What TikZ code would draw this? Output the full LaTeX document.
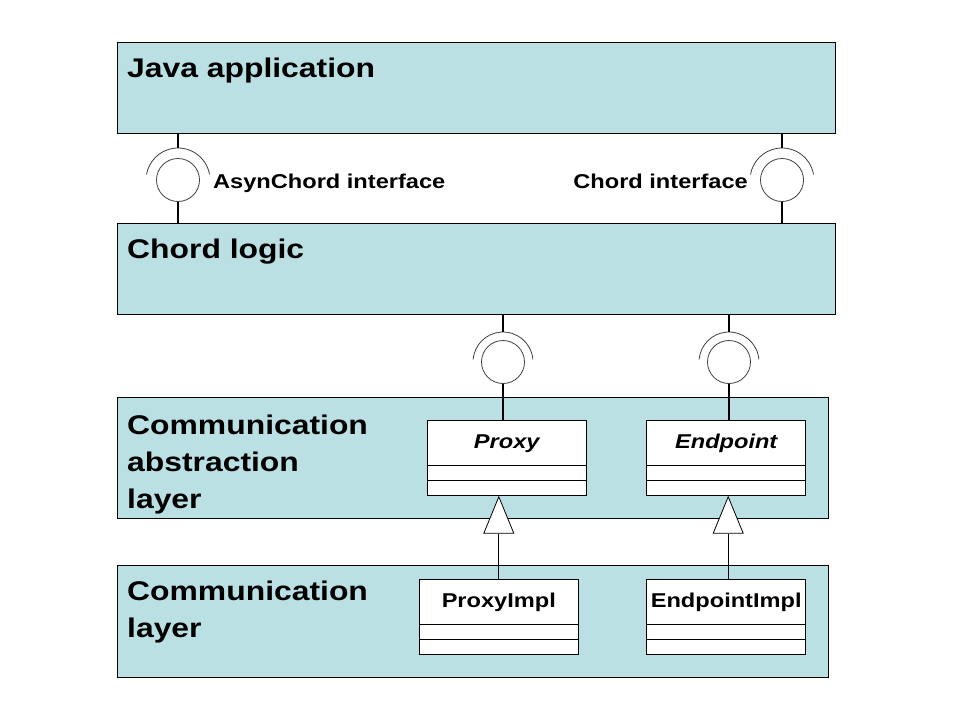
\documentclass[tikz,border=0pt]{standalone}
\usepackage{fontspec}
\setmainfont{Liberation Sans}[FakeStretch=1.18]
\usetikzlibrary{positioning,arrows.meta}
\definecolor{layerfill}{RGB}{187,224,227}

\tikzset{
  layer/.style={draw, fill=layerfill, line width=0.8pt, anchor=north west, inner sep=0, outer sep=0},
  layertext/.style={inner sep=0, align=left, font=\fontsize{27}{37}\selectfont\bfseries},
  iftext/.style={inner sep=0, font=\fontsize{20}{24}\selectfont\bfseries},
  ball/.style={circle, draw=black!75, line width=0.8pt, minimum size=43pt, inner sep=0, outer sep=0},
  socket/.style={draw=black!75, line width=0.8pt},
  wire/.style={line width=2pt},
  clsname/.style={draw, fill=white, line width=0.8pt, minimum width=159pt, minimum height=45pt, inner sep=0, outer sep=0, font=\fontsize{20}{24}\selectfont\bfseries},
  clspart/.style={draw, fill=white, line width=0.8pt, minimum width=159pt, minimum height=15pt, inner sep=0, outer sep=0},
  inherit/.style={line width=0.8pt, -{Triangle[fill=white, length=38pt, width=31pt]}},
}

\begin{document}
\begin{tikzpicture}[x=1pt, y=-1pt]
  \useasboundingbox (0,0) rectangle (960,720);
  \fill[white] (0,0) rectangle (960,720);

  % layers
  \node[layer, minimum width=718pt, minimum height=91pt] (java) at (117,42) {};
  \node[layer, minimum width=718pt, minimum height=91pt] (chord) at (117,223) {};
  \node[layer, minimum width=711pt, minimum height=121pt] (abstr) at (117,397) {};
  \node[layer, minimum width=711pt, minimum height=112pt] (comm) at (117,565) {};

  \node[layertext, anchor=base west] (javatext) at (127,77) {Java application};
  \node[layertext, anchor=base west] (chordtext) at (127,258) {Chord logic};
  \node[layertext, anchor=north west] (abstrtext) at (127,414.5) {Communication\\abstraction\\layer};
  \node[layertext, anchor=north west] (commtext) at (127,581) {Communication\\layer};

  % classes
  \node[clsname, font=\fontsize{20}{24}\selectfont\bfseries\itshape] (proxy) at (506.7,443.2) {Proxy};
  \node[clspart, below=0pt of proxy] (proxya) {};
  \node[clspart, below=0pt of proxya] (proxyb) {};
  \node[clsname, font=\fontsize{20}{24}\selectfont\bfseries\itshape] (endp) at (726.2,443.2) {Endpoint};
  \node[clspart, below=0pt of endp] (endpa) {};
  \node[clspart, below=0pt of endpa] (endpb) {};

  \node[clsname] (pimpl) at (498.8,602) {ProxyImpl};
  \node[clspart, below=0pt of pimpl] (pimpla) {};
  \node[clspart, below=0pt of pimpla] (pimplb) {};
  \node[clsname] (eimpl) at (726.2,602) {EndpointImpl};
  \node[clspart, below=0pt of eimpl] (eimpla) {};
  \node[clspart, below=0pt of eimpla] (eimplb) {};

  \draw[inherit] (pimpl.north) -- (pimpl.north |- proxyb.south);
  \draw[inherit] ([xshift=2pt]eimpl.north) -- ([xshift=2pt]eimpl.north |- endpb.south);

  % interfaces
  \node[ball] (ball1) at (178,180) {};
  \node[ball] (ball2) at (782,180) {};
  \node[ball] (ball3) at (503,362) {};
  \node[ball] (ball4) at (729,362) {};
  \coordinate (sock1) at (178,148);
  \coordinate (sock2) at (782,148);
  \coordinate (sock3) at (503,332);
  \coordinate (sock4) at (729,332);

  \draw[socket] (ball1.center) ++(10:32pt) arc[start angle=10, end angle=170, radius=32pt];
  \draw[socket] (ball2.center) ++(10:32pt) arc[start angle=10, end angle=170, radius=32pt];
  \draw[socket] (ball3.center) ++(5:30pt) arc[start angle=5, end angle=175, radius=30pt];
  \draw[socket] (ball4.center) ++(5:30pt) arc[start angle=5, end angle=175, radius=30pt];

  \draw[wire] (java.south -| sock1) -- (sock1);
  \draw[wire] (ball1.south) -- (ball1.south |- chord.north);
  \draw[wire] (java.south -| sock2) -- (sock2);
  \draw[wire] (ball2.south) -- (ball2.south |- chord.north);
  \draw[wire] (chord.south -| sock3) -- (sock3);
  \draw[wire] (ball3.south) -- (ball3.south |- proxy.north);
  \draw[wire] (chord.south -| sock4) -- (sock4);
  \draw[wire] (ball4.south) -- (ball4.south |- endp.north);

  \node[iftext, anchor=base west] (asynlabel) at (213,188) {AsynChord interface};
  \node[iftext, anchor=base east] (chordlabel) at (748,188) {Chord interface};
\end{tikzpicture}
\end{document}
